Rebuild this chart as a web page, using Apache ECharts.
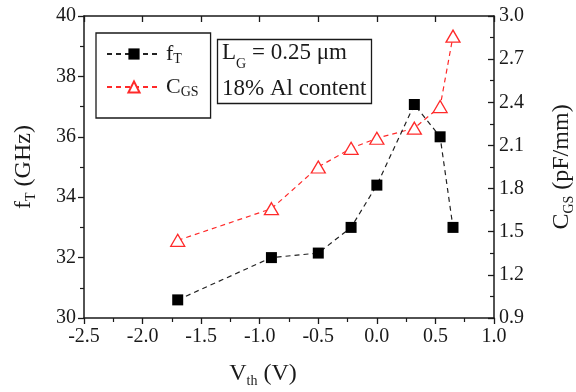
<!DOCTYPE html>
<html><head><meta charset="utf-8">
<script src="https://cdn.jsdelivr.net/npm/echarts@6/dist/echarts.min.js"></script>
<style>html,body{margin:0;padding:0;background:#fff}#c{width:576px;height:392px}</style>
</head><body><div id="c"></div>
<script>
const vth = [-1.7, -0.9, -0.5, -0.22, 0.0, 0.32, 0.54, 0.65];
const fT  = [30.6, 32.0, 32.15, 33.0, 34.4, 37.07, 36.0, 33.0];
const cgs = [1.44, 1.66, 1.95, 2.08, 2.15, 2.22, 2.37, 2.86];
const xRange = [-2.5, 1.0, 0.5];
const fRange = [30, 40, 2];
const cRange = [0.9, 3.0, 0.3];
const seriesNames = ['fT', 'CGS'];

const FONT = 'Liberation Serif';
const INK = '#1a1a1a';
const RED = '#ff2a2a';
const sub = {fontFamily: FONT, fontWeight: 'normal', fontSize: 14, color: INK, verticalAlign: 'bottom', lineHeight: 14, padding: [12, 0, 0, 0]};
const main = (s, lh) => ({fontFamily: FONT, fontWeight: 'normal', fontSize: s, color: INK, lineHeight: lh || 28});
const lblRich = {t: {fontFamily: FONT, fontWeight: 'normal', fontSize: 20, color: INK}};

const chart = echarts.init(document.getElementById('c'));
const mk = (a, b) => a.map((v, i) => [v, b[i]]);
chart.setOption({
  animation: false,
  backgroundColor: '#fff',
  textStyle: {fontFamily: FONT, color: INK},
  grid: {left: 84, right: 82, top: 16, bottom: 74, outerBoundsMode: 'none', containLabel: false},
  title: {
    left: 217, top: 33,
    borderColor: INK, borderWidth: 1.3,
    padding: [2, 5, 3, 5],
    text: '{m|L}{s|G}{m| = 0.25 μm}\n{m|18% Al content}',
    textStyle: {fontWeight: 'normal', fontFamily: FONT, rich: {m: main(23, 36), s: sub}}
  },
  legend: {
    orient: 'vertical', left: 96, top: 33,
    borderColor: INK, borderWidth: 1.3,
    padding: [5, 12, 19, 10],
    itemWidth: 54, itemHeight: 14, itemGap: 5,
    data: seriesNames,
    formatter: (n) => n === 'fT' ? '{m|f}{s|T}' : '{m|C}{s|GS}',
    textStyle: {fontFamily: FONT, rich: {m: main(22, 24), s: Object.assign({}, sub, {padding: [14, 0, 0, 0]})}}
  },
  xAxis: [{
    type: 'value', position: 'bottom', min: xRange[0], max: xRange[1], interval: xRange[2],
    axisLine: {show: true, onZero: false, lineStyle: {color: INK, width: 1.5}},
    axisTick: {show: true, inside: false, length: 6, lineStyle: {color: INK, width: 1.3}},
    minorTick: {show: true, splitNumber: 2, length: 4, lineStyle: {color: INK, width: 1.2}},
    splitLine: {show: false},
    axisLabel: {margin: 9, formatter: v => '{t|' + v.toFixed(1) + '}', rich: lblRich},
    name: '{m|V}{s|th}{m| (V)}', nameLocation: 'middle', nameGap: 42,
    nameTextStyle: {padding: [0, 52, 0, 0], rich: {m: main(24), s: sub}}
  }, {
    type: 'value', position: 'top', min: xRange[0], max: xRange[1], interval: xRange[2],
    axisLine: {show: true, onZero: false, lineStyle: {color: INK, width: 1.5}},
    axisTick: {show: true, inside: true, length: 6, lineStyle: {color: INK, width: 1.3}},
    axisLabel: {show: false}, splitLine: {show: false}
  }],
  yAxis: [{
    type: 'value', position: 'left', min: fRange[0], max: fRange[1], interval: fRange[2],
    axisLine: {show: true, onZero: false, lineStyle: {color: INK, width: 1.5}},
    axisTick: {show: true, inside: false, length: 6, lineStyle: {color: INK, width: 1.3}},
    minorTick: {show: true, splitNumber: 2, length: 4, lineStyle: {color: INK, width: 1.2}},
    splitLine: {show: false},
    axisLabel: {margin: 8, formatter: v => '{t|' + v + '}', rich: lblRich},
    name: '{m|f}{s|T}{m| (GHz)}', nameLocation: 'middle', nameGap: 46, nameRotate: 90,
    nameTextStyle: {rich: {m: main(24), s: sub}}
  }, {
    type: 'value', position: 'right', min: cRange[0], max: cRange[1], interval: cRange[2],
    axisLine: {show: true, onZero: false, lineStyle: {color: INK, width: 1.5}},
    axisTick: {show: true, inside: true, length: 6, lineStyle: {color: INK, width: 1.3}},
    minorTick: {show: true, splitNumber: 2, length: 4, lineStyle: {color: INK, width: 1.2}},
    splitLine: {show: false},
    axisLabel: {margin: 5, formatter: v => '{t|' + v.toFixed(1) + '}', rich: lblRich},
    name: '{m|C}{s|GS}{m| (pF/mm)}', nameLocation: 'middle', nameGap: 54, nameRotate: 90,
    nameTextStyle: {rich: {m: main(24), s: sub}}
  }],
  series: [{
    name: 'fT', type: 'line', xAxisIndex: 0, yAxisIndex: 0, data: mk(vth, fT),
    symbol: 'rect', symbolSize: 11,
    itemStyle: {color: '#000'},
    lineStyle: {color: '#222', width: 1.2, type: [5, 4]}, z: 3
  }, {
    name: 'CGS', type: 'line', xAxisIndex: 0, yAxisIndex: 1, data: mk(vth, cgs),
    symbol: 'triangle', symbolSize: [14, 12],
    itemStyle: {color: '#fff', borderColor: RED, borderWidth: 1.3},
    lineStyle: {color: RED, width: 1.2, type: [5, 4]}, z: 2
  }]
});
</script></body></html>
